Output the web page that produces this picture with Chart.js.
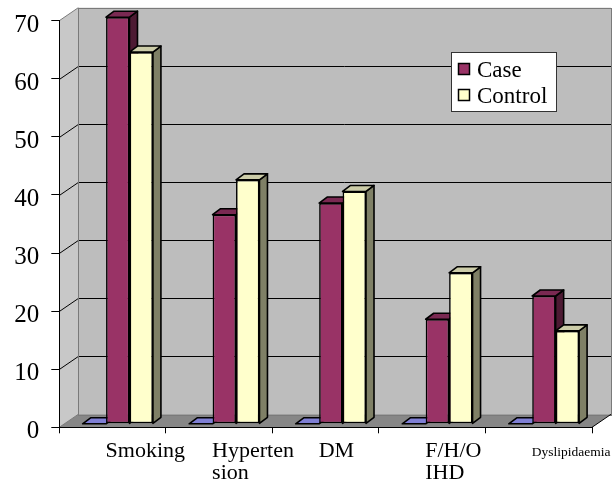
<!DOCTYPE html>
<html>
<head>
<meta charset="utf-8">
<script src="https://cdn.jsdelivr.net/npm/chart.js@4/dist/chart.umd.min.js"></script>
<style>
  html, body { margin: 0; padding: 0; background: #ffffff; }
  canvas { display: block; }
</style>
</head>
<body>
<canvas id="chart" width="613" height="485"></canvas>
<script>
// Risk factors, percentage of cases and controls
const categories = ['Smoking', ['Hyperten', 'sion'], 'DM', ['F/H/O', 'IHD'], 'Dyslipidaemia'];
const caseValues = [70, 36, 38, 18, 22];
const controlValues = [64, 42, 40, 26, 16];
const emptyValues = [0, 0, 0, 0, 0];
const yTickValues = [0, 10, 20, 30, 40, 50, 60, 70];

const SERIF = "'Liberation Serif', 'Times New Roman', serif";

// Polygon helper
function poly(ctx, pts, fill, stroke) {
  ctx.beginPath();
  ctx.moveTo(pts[0][0], pts[0][1]);
  for (let i = 1; i < pts.length; i++) ctx.lineTo(pts[i][0], pts[i][1]);
  ctx.closePath();
  if (fill) { ctx.fillStyle = fill; ctx.fill(); }
  if (stroke) { ctx.strokeStyle = stroke; ctx.stroke(); }
}

// Walls, floor and column depth faces for the 3-D look
const depthPlugin = {
  id: 'depth',
  beforeDraw(chart, args, o) {
    const { ctx, chartArea: a } = chart;
    const y = chart.scales.y;
    const dx = o.wall.dx, dy = o.wall.dy;
    const L = a.left, R = a.right, T = a.top, B = a.bottom;
    ctx.save();
    ctx.lineWidth = 1;
    // back wall
    ctx.fillStyle = o.backWall;
    ctx.fillRect(L + dx, T + dy, R - L, B - T);
    // left side wall
    poly(ctx, [[L, B], [L, T], [L + dx, T + dy], [L + dx, B + dy]], o.sideWall);
    // floor
    poly(ctx, [[L, B], [L + dx, B + dy], [R + dx, B + dy], [R, B]], o.floor);
    // value grid lines across side wall and back wall
    ctx.strokeStyle = o.grid;
    y.ticks.forEach(t => {
      if (t.value <= y.min || t.value >= y.max) return;
      const py = Math.round(y.getPixelForValue(t.value)) + 0.5;
      ctx.beginPath();
      ctx.moveTo(L, py);
      ctx.lineTo(L + dx, py + dy);
      ctx.lineTo(R + dx, py + dy);
      ctx.stroke();
    });
    // wall edges
    ctx.strokeStyle = o.edge;
    const bx = Math.round(L + dx) + 0.5, by = Math.round(T + dy) + 0.5;
    ctx.strokeRect(bx, by, Math.round(R - L), Math.round(B - T));
    ctx.beginPath();
    ctx.moveTo(L, T); ctx.lineTo(L + dx, T + dy);
    ctx.moveTo(L, B); ctx.lineTo(L + dx, B + dy);
    ctx.stroke();
    ctx.strokeStyle = '#000';
    ctx.beginPath();
    ctx.moveTo(R, B); ctx.lineTo(R + dx, B + dy);
    ctx.stroke();
    ctx.restore();
  },
  beforeDatasetsDraw(chart, args, o) {
    const { ctx } = chart;
    const s = o.shift, d = o.barDepth;
    const metas = chart.getSortedVisibleDatasetMetas();
    const n = chart.data.labels.length;
    ctx.save();
    ctx.lineWidth = o.lineWidth;
    ctx.lineJoin = 'round';
    for (let i = 0; i < n; i++) {
      metas.forEach(meta => {
        const el = meta.data[i];
        if (!el) return;
        const p = el.getProps(['x', 'y', 'base', 'width'], true);
        const face = o.faces[meta.index];
        const l = p.x - p.width / 2 + s.dx, r = p.x + p.width / 2 + s.dx;
        const t = Math.min(p.y, p.base) + s.dy, b = Math.max(p.y, p.base) + s.dy;
        if (b - t > 0.5) {
          poly(ctx, [[r, b], [r, t], [r + d.dx, t + d.dy], [r + d.dx, b + d.dy]], face.side, '#000');
        }
        poly(ctx, [[l, t], [r, t], [r + d.dx, t + d.dy], [l + d.dx, t + d.dy]], face.top, '#000');
      });
    }
    ctx.restore();
    // columns stand a little behind the front edge of the floor
    ctx.save();
    ctx.translate(s.dx, s.dy);
  },
  afterDatasetsDraw(chart) {
    chart.ctx.restore();
  }
};

// Boxed legend inside the plot
const boxLegend = {
  id: 'boxLegend',
  afterDraw(chart, args, o) {
    const { ctx } = chart;
    const items = chart.data.datasets.filter(ds => ds.label);
    ctx.save();
    ctx.fillStyle = '#ffffff';
    ctx.fillRect(o.x, o.y, o.w, o.h);
    ctx.strokeStyle = o.border;
    ctx.lineWidth = 1;
    ctx.strokeRect(o.x + 0.5, o.y + 0.5, o.w, o.h);
    ctx.font = `${o.fontSize}px ${SERIF}`;
    ctx.textBaseline = 'alphabetic';
    ctx.textAlign = 'left';
    items.forEach((ds, k) => {
      const top = o.y + o.firstRow + k * o.rowGap;
      ctx.fillStyle = ds.backgroundColor;
      ctx.fillRect(o.x + o.markerX, top, o.marker, o.marker);
      ctx.strokeStyle = '#000';
      ctx.lineWidth = 1.5;
      ctx.strokeRect(o.x + o.markerX, top, o.marker, o.marker);
      ctx.fillStyle = '#000';
      ctx.fillText(ds.label, o.x + o.textX, top + o.baseline);
    });
    ctx.restore();
  }
};

// Long single-word category names are set in a smaller size
function longestLine(label) {
  const lines = Array.isArray(label) ? label : [label];
  return Math.max(...lines.map(s => String(s).length));
}

new Chart(document.getElementById('chart'), {
  type: 'bar',
  data: {
    labels: categories,
    datasets: [
      { label: '', data: emptyValues, backgroundColor: '#9999FF' },
      { label: 'Case', data: caseValues, backgroundColor: '#993366' },
      { label: 'Control', data: controlValues, backgroundColor: '#FFFFCC' }
    ]
  },
  options: {
    responsive: false,
    devicePixelRatio: 1,
    animation: false,
    events: [],
    layout: { autoPadding: false, padding: { left: 0, right: 21, top: 20.7, bottom: 0 } },
    datasets: {
      bar: {
        categoryPercentage: 0.66,
        barPercentage: 1.0,
        borderColor: '#000',
        borderWidth: 1.6,
        borderSkipped: false,
        clip: false
      }
    },
    scales: {
      x: {
        offset: true,
        grid: { display: true, drawOnChartArea: false, drawTicks: true, tickLength: 6, tickColor: '#000', offset: true },
        border: { display: true, color: '#000', width: 1 },
        ticks: {
          color: '#000',
          align: 'start',
          labelOffset: -7,
          padding: 7,
          autoSkip: false,
          maxRotation: 0,
          font: c => {
            const len = c.tick ? longestLine(c.tick.label) : 0;
            return len > 10
              ? { family: SERIF, size: 13.5, lineHeight: 1.8 }
              : { family: SERIF, size: 22, lineHeight: 1.0 };
          }
        },
        afterFit: s => { s.height = 57.7; s.paddingLeft = 0; s.paddingRight = 0; }
      },
      y: {
        min: 0,
        max: 70,
        afterBuildTicks: s => { s.ticks = yTickValues.map(value => ({ value })); },
        grid: { display: true, drawOnChartArea: false, drawTicks: true, tickLength: 8, tickColor: '#000' },
        border: { display: true, color: '#000', width: 1 },
        ticks: { color: '#000', padding: 12, labelOffset: 4.5, font: { family: SERIF, size: 25 } },
        afterFit: s => { s.width = 59.3; s.paddingTop = 0; s.paddingBottom = 0; }
      }
    },
    plugins: {
      legend: { display: false },
      tooltip: { enabled: false },
      depth: {
        wall: { dx: 19, dy: -13 },
        shift: { dx: 5.2, dy: -3.5 },
        barDepth: { dx: 8, dy: -6 },
        lineWidth: 1.6,
        backWall: '#BDBDBD',
        sideWall: '#C8C8C8',
        floor: '#878787',
        grid: '#000',
        edge: '#7A7A7A',
        faces: [
          { top: '#7F7FD4', side: '#5C5CA8' },
          { top: '#7A2952', side: '#4D1A33' },
          { top: '#CCCCA8', side: '#7F8066' }
        ]
      },
      boxLegend: {
        x: 451, y: 52, w: 105, h: 59,
        border: '#333',
        fontSize: 23,
        marker: 11,
        markerX: 7.5,
        textX: 26,
        firstRow: 11.5,
        rowGap: 26,
        baseline: 13
      }
    }
  },
  plugins: [depthPlugin, boxLegend]
});
</script>
</body>
</html>
